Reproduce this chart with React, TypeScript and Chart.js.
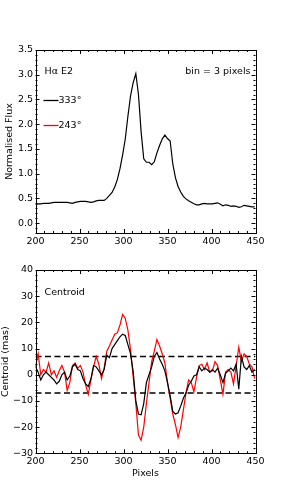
import React, { useEffect, useRef } from "react";
import { Chart, registerables } from "chart.js";

Chart.register(...registerables);

// ---------- data ----------
const pixels = [
  200, 203, 206, 209, 212, 215, 218, 221, 224, 227, 230, 233, 236, 239, 242, 245, 248, 251, 254, 257,
  260, 263, 266, 269, 272, 275, 278, 281, 284, 287, 290, 293, 296, 299, 302, 305, 308, 311, 314, 317,
  320, 323, 326, 329, 332, 335, 338, 341, 344, 347, 350, 353, 356, 359, 362, 365, 368, 371, 374, 377,
  380, 383, 386, 389, 392, 395, 398, 401, 404, 407, 410, 413, 416, 419, 422, 425, 428, 431, 434, 437,
  440, 443, 446, 449,
];

const flux333 = [
  0.37, 0.39, 0.39, 0.40, 0.40, 0.40, 0.41, 0.42, 0.42, 0.42, 0.42, 0.42, 0.42, 0.41, 0.40, 0.42, 0.43, 0.44, 0.44, 0.44,
  0.43, 0.42, 0.43, 0.45, 0.46, 0.46, 0.46, 0.50, 0.56, 0.62, 0.73, 0.88, 1.10, 1.38, 1.70, 2.16, 2.57, 2.84, 3.02, 2.60,
  1.85, 1.30, 1.23, 1.23, 1.18, 1.24, 1.42, 1.57, 1.70, 1.78, 1.71, 1.66, 1.20, 0.92, 0.74, 0.63, 0.54, 0.49, 0.45, 0.42,
  0.39, 0.37, 0.37, 0.39, 0.40, 0.39, 0.39, 0.39, 0.40, 0.41, 0.38, 0.35, 0.37, 0.36, 0.34, 0.35, 0.34, 0.32, 0.33, 0.36,
  0.35, 0.34, 0.33, 0.33,
];

const centroid333 = [
  3, 1, -2, 0, 1, 0, -1, -2, -3.5, -2.5, 0, 1, -2, -0.5, 3, 4, 2, 1.5, -1.5, -3.5,
  -4.5, -1.5, 3.5, 3, 1.5, 0, 2, 7.5, 6.5, 10, 11.5, 13, 14.5, 15.5, 15, 11.5, 8, 1.2, -10, -15,
  -15.3, -11, -3, 0, 3, 7, 8.5, 6, 4, 1.5, -3, -8, -14, -15, -14.5, -12, -9, -7, -4, -2.5,
  -0.5, 0, 3, 1.5, 2.5, 2, 1, 2, 1, 2.5, 0, -3, 0.5, 1.5, 2.5, 1.5, 4, -5.5, 7, 3,
  2, 3.5, 1, 2,
];

const centroid243 = [
  3, 8, 0, 2, 1, 4.5, 0, 1.5, -1, 1.5, 3.5, 1, -6, -3, 3.5, 4.5, 2.5, 3.5, 1, -4,
  -7.5, -2, 3, 7, 4, -1.5, 2.5, 9, 11, 13.3, 15.5, 16, 19, 23, 21.5, 17, 9.5, -0.7, -11, -23,
  -25, -20, -11, -3, 5, 9, 13.5, 11, 8, 4.5, -3, -9, -15, -19, -24, -20, -13.5, -7, -2, -3,
  -6.5, -1, 3.5, 4, 2, 4.5, 1, 1.5, 5, 3.5, -2, -7.5, 1, 2, 1, -3.5, 3.5, 10.5, 5, 8,
  7, 4, 3, -1.5,
];

const thresholdUpper = 7;
const thresholdLower = -7;

const pixelTicks = [200, 250, 300, 350, 400, 450];
const fluxTicks = [0, 0.5, 1, 1.5, 2, 2.5, 3, 3.5];
const centroidTicks = [-30, -20, -10, 0, 10, 20, 30, 40];

const pixelRange = [200, 450];
const fluxRange = [-0.2, 3.5];
const centroidRange = [-30, 40];

const pixelMinorStep = 10;
const fluxMinorStep = 0.1;
const centroidMinorStep = 2;

const legendLabels = ["333\u00b0", "243\u00b0"];
const seriesColors = ["#000000", "#ff0000"];

// ---------- styling ----------
const FONT = { family: "'DejaVu Sans', sans-serif", size: 9.5 };
const FONT_CSS = "9.5px 'DejaVu Sans', sans-serif";

const fmtMinus = (v: number) => (v < 0 ? "\u2212" + Math.abs(v) : String(v));

const framePlugin = {
  id: "frame",
  afterDatasetsDraw(chart: any, _args: any, opts: any) {
    const { ctx, chartArea: a, scales } = chart;
    const xs = scales.x;
    const ys = scales.y;
    ctx.save();
    ctx.strokeStyle = "#000";
    ctx.lineWidth = 1;
    const line = (x1: number, y1: number, x2: number, y2: number) => {
      ctx.beginPath();
      ctx.moveTo(x1, y1);
      ctx.lineTo(x2, y2);
      ctx.stroke();
    };
    const major = 4;
    const minor = 2;
    const nX = Math.round((opts.xMax - opts.xMin) / opts.xMinor);
    for (let i = 0; i <= nX; i++) {
      const v = opts.xMin + i * opts.xMinor;
      const isMajor = opts.xMajor.some((m: number) => Math.abs(m - v) < 1e-6);
      const len = isMajor ? major : minor;
      const p = Math.round(xs.getPixelForValue(v)) + 0.5;
      line(p, a.bottom, p, a.bottom - len);
      line(p, a.top, p, a.top + len);
    }
    const nY = Math.round((opts.yMax - opts.yMin) / opts.yMinor);
    for (let i = 0; i <= nY; i++) {
      const v = opts.yMin + i * opts.yMinor;
      const isMajor = opts.yMajor.some((m: number) => Math.abs(m - v) < 1e-6);
      const len = isMajor ? major : minor;
      const p = Math.round(ys.getPixelForValue(v)) + 0.5;
      line(a.left, p, a.left + len, p);
      line(a.right, p, a.right - len, p);
    }
    ctx.strokeRect(
      Math.round(a.left) + 0.5,
      Math.round(a.top) + 0.5,
      Math.round(a.right) - Math.round(a.left),
      Math.round(a.bottom) - Math.round(a.top)
    );
    ctx.restore();
  },
};

const notesPlugin = {
  id: "notes",
  afterDraw(chart: any, _args: any, opts: any) {
    const { ctx, chartArea: a } = chart;
    ctx.save();
    ctx.font = FONT_CSS;
    ctx.fillStyle = "#000";
    ctx.textBaseline = "middle";
    (opts.texts || []).forEach((t: any) => {
      ctx.textAlign = t.align || "left";
      const x = t.align === "right" ? a.right - t.dx : a.left + t.dx;
      ctx.fillText(t.text, x, a.top + t.dy);
    });
    (opts.legend || []).forEach((l: any) => {
      const y = Math.round(a.top + l.dy) + 0.5;
      ctx.strokeStyle = l.color;
      ctx.lineWidth = 1.3;
      ctx.beginPath();
      ctx.moveTo(a.left + l.dx, y);
      ctx.lineTo(a.left + l.dx + 15, y);
      ctx.stroke();
      ctx.textAlign = "left";
      ctx.fillText(l.text, a.left + l.dx + 15, y);
    });
    ctx.restore();
  },
};

const toPoints = (ys: number[]) => pixels.map((p, i) => ({ x: p, y: ys[i] }));

export default function App() {
  const topRef = useRef<HTMLCanvasElement>(null);
  const botRef = useRef<HTMLCanvasElement>(null);

  useEffect(() => {
    Chart.defaults.color = "#000";
    const common = (tickFmt: (v: number) => string, yTicks: number[], yRange: number[]) => ({
      x: {
        type: "linear",
        min: pixelRange[0],
        max: pixelRange[1],
        afterBuildTicks: (s: any) => {
          s.ticks = pixelTicks.map((v) => ({ value: v }));
        },
        grid: { display: false, drawTicks: false },
        border: { display: false },
        ticks: { autoSkip: false, maxRotation: 0, padding: 3, font: FONT, color: "#000" },
      },
      y: {
        type: "linear",
        min: yRange[0],
        max: yRange[1],
        afterBuildTicks: (s: any) => {
          s.ticks = yTicks.map((v) => ({ value: v }));
        },
        afterFit: (s: any) => {
          s.width = 35.5;
        },
        grid: { display: false, drawTicks: false },
        border: { display: false },
        ticks: {
          autoSkip: false,
          padding: 2.5,
          font: FONT,
          color: "#000",
          callback: (v: any) => tickFmt(Number(v)),
        },
      },
    });

    const topScales: any = common((v) => v.toFixed(1), fluxTicks, fluxRange);
    topScales.x.afterFit = (s: any) => {
      s.height = 19;
    };
    topScales.y.title = {
      display: true,
      text: "Normalised Flux",
      font: FONT,
      color: "#000",
      padding: { top: 4, bottom: 0 },
    };

    const top = new Chart(topRef.current!, {
      type: "line",
      data: {
        datasets: [
          {
            label: legendLabels[0],
            data: toPoints(flux333),
            borderColor: seriesColors[0],
            borderWidth: 1.2,
            pointRadius: 0,
            tension: 0,
          },
        ],
      },
      options: {
        animation: false,
        responsive: false,
        devicePixelRatio: 1,
        layout: { padding: { top: 50, right: 28.5, left: 0, bottom: 0 } },
        plugins: {
          legend: { display: false },
          tooltip: { enabled: false },
          frame: {
            xMin: pixelRange[0],
            xMax: pixelRange[1],
            xMinor: pixelMinorStep,
            xMajor: pixelTicks,
            yMin: fluxRange[0],
            yMax: fluxRange[1],
            yMinor: fluxMinorStep,
            yMajor: fluxTicks,
          },
          notes: {
            texts: [
              { text: "H\u03b1 E2", dx: 9, dy: 22, align: "left" },
              { text: "bin = 3 pixels", dx: 5, dy: 22, align: "right" },
            ],
            legend: [
              { text: legendLabels[0], color: seriesColors[0], dx: 8, dy: 50 },
              { text: legendLabels[1], color: seriesColors[1], dx: 8, dy: 75 },
            ],
          },
        } as any,
        scales: topScales,
      },
      plugins: [framePlugin, notesPlugin],
    });

    const botScales: any = common(fmtMinus, centroidTicks, centroidRange);
    botScales.x.afterFit = (s: any) => {
      s.height = 50.7;
    };
    botScales.x.title = {
      display: true,
      text: "Pixels",
      font: FONT,
      color: "#000",
      padding: { top: 0, bottom: 25 },
    };
    botScales.y.title = {
      display: true,
      text: "Centroid (mas)",
      font: FONT,
      color: "#000",
      padding: { top: 0, bottom: 0 },
    };

    const bot = new Chart(botRef.current!, {
      type: "line",
      data: {
        datasets: [
          {
            label: legendLabels[0],
            data: toPoints(centroid333),
            borderColor: seriesColors[0],
            borderWidth: 1.2,
            pointRadius: 0,
            tension: 0,
          },
          {
            label: legendLabels[1],
            data: toPoints(centroid243),
            borderColor: seriesColors[1],
            borderWidth: 1.2,
            pointRadius: 0,
            tension: 0,
          },
          {
            label: "upper",
            data: [
              { x: pixelRange[0], y: thresholdUpper },
              { x: pixelRange[1], y: thresholdUpper },
            ],
            borderColor: "#000",
            borderWidth: 1.5,
            borderDash: [6, 3.5],
            pointRadius: 0,
          },
          {
            label: "lower",
            data: [
              { x: pixelRange[0], y: thresholdLower },
              { x: pixelRange[1], y: thresholdLower },
            ],
            borderColor: "#000",
            borderWidth: 1.5,
            borderDash: [6, 3.5],
            pointRadius: 0,
          },
        ],
      },
      options: {
        animation: false,
        responsive: false,
        devicePixelRatio: 1,
        layout: { padding: { top: 18, right: 28.5, left: 0, bottom: 0 } },
        plugins: {
          legend: { display: false },
          tooltip: { enabled: false },
          frame: {
            xMin: pixelRange[0],
            xMax: pixelRange[1],
            xMinor: pixelMinorStep,
            xMajor: pixelTicks,
            yMin: centroidRange[0],
            yMax: centroidRange[1],
            yMinor: centroidMinorStep,
            yMajor: centroidTicks,
          },
          notes: {
            texts: [{ text: "Centroid", dx: 9, dy: 22.7, align: "left" }],
            legend: [],
          },
        } as any,
        scales: botScales,
      },
      plugins: [framePlugin, notesPlugin],
    });

    return () => {
      top.destroy();
      bot.destroy();
    };
  }, []);

  return (
    <div style={{ position: "absolute", left: 0, top: 0, width: 284, height: 504, background: "#fff" }}>
      <canvas ref={topRef} width={284} height={252} style={{ position: "absolute", left: 0, top: 0 }} />
      <canvas ref={botRef} width={284} height={252} style={{ position: "absolute", left: 0, top: 252 }} />
    </div>
  );
}
